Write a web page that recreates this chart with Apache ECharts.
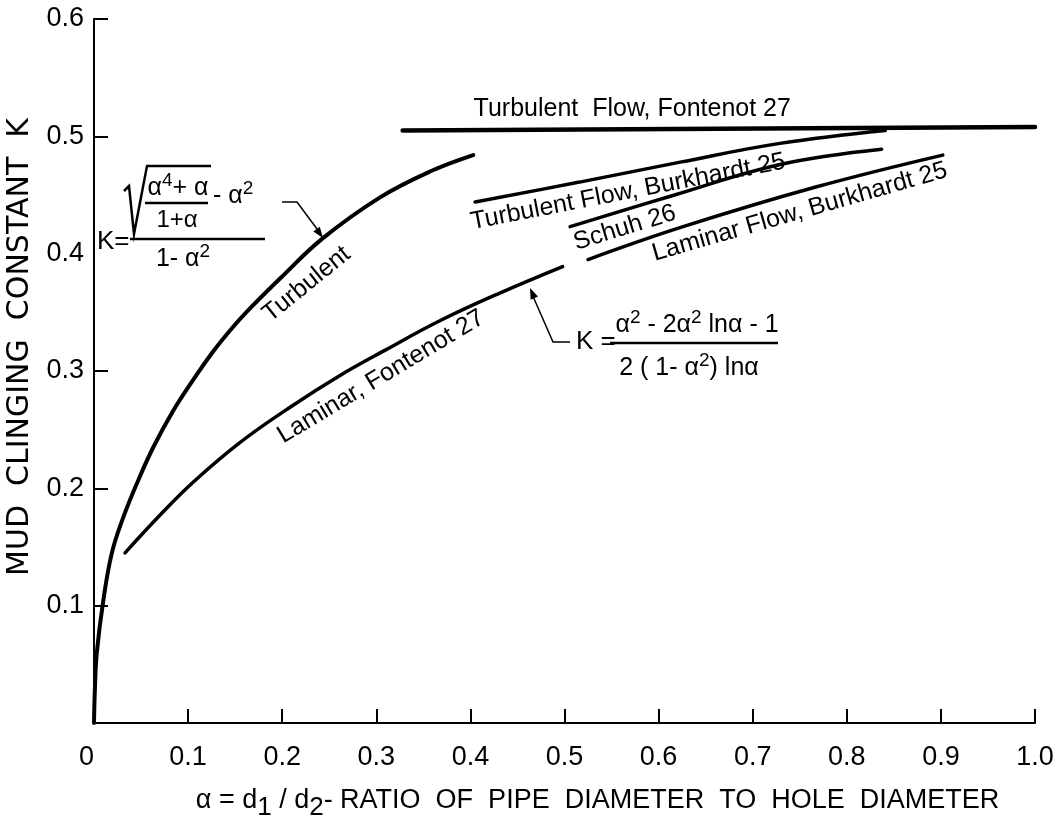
<!DOCTYPE html>
<html><head><meta charset="utf-8">
<script src="https://cdn.jsdelivr.net/npm/echarts@6/dist/echarts.min.js"></script>
<style>html,body{margin:0;padding:0;background:#fff}#c{width:1059px;height:831px}</style>
</head><body><div id="c"></div>
<script>
// ---- data ----
const yLabelValues = [0.1, 0.2, 0.3, 0.4, 0.5, 0.6];
const yTickValues = [0.1, 0.2, 0.3, 0.5, 0.6];
const turbulentFormula = [[0,0],[0.001,0.03],[0.003,0.06],[0.01,0.105],[0.019,0.145],[0.031,0.175],[0.046,0.205],[0.063,0.235],[0.084,0.266],[0.105,0.292],[0.126,0.316],[0.145,0.335],[0.163,0.351],[0.198,0.379],[0.243,0.413],[0.304,0.448],[0.357,0.470],[0.403,0.484]];
const laminarFontenot = [[0.033,0.145],[0.07,0.177],[0.105,0.205],[0.155,0.239],[0.21,0.270],[0.261,0.296],[0.31,0.318],[0.368,0.343],[0.43,0.366],[0.498,0.389]];
const turbulentFontenot = [[0.328,0.505],[1.0,0.508]];
const turbulentBurkhardt = [[0.405,0.444],[0.516,0.461],[0.623,0.478],[0.729,0.494],[0.841,0.505]];
const schuh = [[0.506,0.423],[0.617,0.450],[0.729,0.476],[0.837,0.489]];
const laminarBurkhardt = [[0.525,0.395],[0.626,0.423],[0.768,0.457],[0.902,0.484]];
const curveLabels = [
  {text:'Turbulent  Flow, Fontenot 27', x:0.572, y:0.523, rot:0},
  {text:'Turbulent', x:0.226, y:0.374, rot:39},
  {text:'Laminar, Fontenot 27', x:0.305, y:0.295, rot:31},
  {text:'Turbulent Flow, Burkhardt 25', x:0.5675, y:0.4526, rot:11},
  {text:'Schuh 26', x:0.564, y:0.422, rot:17},
  {text:'Laminar Flow, Burkhardt 25', x:0.750, y:0.4355, rot:16}
];

const FF = "'Liberation Sans', 'DejaVu Sans', sans-serif";
const chart = echarts.init(document.getElementById('c'), null, {renderer:'canvas'});

function lineSeries(name, data, w) {
  return {name, type:'line', data, showSymbol:false, silent:true, smooth:0.4,
    lineStyle:{color:'#000', width:w, cap:'round'}, itemStyle:{color:'#000'}};
}

chart.setOption({
  animation:false,
  backgroundColor:'#fff',
  grid:{left:94, right:24, top:19, bottom:108, containLabel:false, outerBoundsMode:'none'},
  xAxis:{
    type:'value', min:0, max:1, interval:0.1,
    axisLine:{show:true, lineStyle:{color:'#000', width:2}},
    axisTick:{show:true, inside:true, length:14, lineStyle:{color:'#000', width:2}},
    splitLine:{show:false},
    axisLabel:{color:'#000', fontFamily:FF, fontSize:27, margin:21, alignMinLabel:'right',
      formatter:v => v === 0 ? '0' : v.toFixed(1)},
    name:'α = d{s|1} / d{s|2}- RATIO  OF  PIPE  DIAMETER  TO  HOLE  DIAMETER',
    nameLocation:'middle', nameGap:58,
    nameTextStyle:{color:'#000', fontFamily:FF, fontSize:27, lineHeight:40, padding:[0,0,0,66],
      rich:{s:{fontFamily:FF, fontSize:26, lineHeight:18, verticalAlign:'bottom', color:'#000'}}}
  },
  yAxis:{
    type:'value', min:0, max:0.6, interval:0.1,
    axisLine:{show:true, lineStyle:{color:'#000', width:2}},
    axisTick:{show:true, inside:true, length:14, customValues:yTickValues, lineStyle:{color:'#000', width:2}},
    splitLine:{show:false},
    axisLabel:{color:'#000', fontFamily:FF, fontSize:27, margin:10, customValues:yLabelValues,
      formatter:v => v.toFixed(1)},
    name:'MUD  CLINGING  CONSTANT  K',
    nameLocation:'middle', nameGap:54, nameRotate:90,
    nameTextStyle:{color:'#000', fontFamily:"'DejaVu Sans', sans-serif", fontSize:30, padding:[0,0,0,48]}
  },
  series:[
    lineSeries('Turbulent (formula)', turbulentFormula, 4),
    lineSeries('Laminar, Fontenot 27', laminarFontenot, 3.5),
    lineSeries('Turbulent Flow, Fontenot 27', turbulentFontenot, 4.5),
    lineSeries('Turbulent Flow, Burkhardt 25', turbulentBurkhardt, 3.5),
    lineSeries('Schuh 26', schuh, 3.5),
    lineSeries('Laminar Flow, Burkhardt 25', laminarBurkhardt, 3.5)
  ]
});

const supRich = {
  n:{fontFamily:FF, fontSize:25, lineHeight:34, verticalAlign:'middle', fill:'#000', color:'#000'},
  u:{fontFamily:FF, fontSize:19, lineHeight:20, verticalAlign:'top', fill:'#000', color:'#000'}
};
function txt(text, x, y, size, align, rot, rich) {
  const st = {text, x:0, y:0, fill:'#000', font:size+'px '+FF,
      align:align||'center', verticalAlign:'middle', textAlign:align||'center', textVerticalAlign:'middle'};
  if (rich) st.rich = rich;
  return {type:'text', x, y, rotation:(rot||0)*Math.PI/180, silent:true, z:100, style:st};
}
function seg(pts, w) {
  return {type:'polyline', shape:{points:pts}, silent:true, z:100, style:{stroke:'#000', lineWidth:w, fill:null}};
}
function head(tip, from, len, hw) {
  const dx = tip[0]-from[0], dy = tip[1]-from[1], L = Math.hypot(dx,dy);
  const ux = dx/L, uy = dy/L, bx = tip[0]-ux*len, by = tip[1]-uy*len;
  return {type:'polygon', shape:{points:[tip,[bx-uy*hw, by+ux*hw],[bx+uy*hw, by-ux*hw]]}, silent:true, z:100, style:{fill:'#000'}};
}

const els = [];
curveLabels.forEach(l => {
  const p = chart.convertToPixel({gridIndex:0}, [l.x, l.y]);
  els.push(txt(l.text, p[0], p[1], 25, 'center', l.rot));
});
// left formula: K = (sqrt((a^4+a)/(1+a)) - a^2) / (1 - a^2)
els.push(txt('K=', 97, 242, 26, 'left'));
els.push(seg([[130,239],[265,239]], 2.5));
els.push(seg([[124,191],[129,186],[134,234],[147,166],[211,166]], 2.5));
els.push(txt('{n|α}{u|4}{n|+ α}', 178, 188, 25, 'center', 0, supRich));
els.push(seg([[145,203],[208,203]], 2.5));
els.push(txt('1+α', 177, 220, 24, 'center'));
els.push(txt('{n|- α}{u|2}', 213, 196, 25, 'left', 0, supRich));
els.push(txt('{n|1- α}{u|2}', 183, 259, 25, 'center', 0, supRich));
els.push(seg([[282,202],[297,202],[320,233]], 1.5));
els.push(head([323,238],[297,202],11,4));
// right formula
els.push(seg([[570,342],[553,342],[532,294]], 1.5));
els.push(head([530,288],[553,342],11,4));
els.push(txt('K =', 576, 342, 26, 'left'));
els.push(seg([[610,343],[778,343]], 2.5));
els.push(txt('{n|α}{u|2}{n| - 2α}{u|2}{n| lnα - 1}', 697, 325, 25, 'center', 0, supRich));
els.push(txt('{n|2 ( 1- α}{u|2}{n|) lnα}', 689, 368, 25, 'center', 0, supRich));

chart.setOption({graphic:{elements:els}});
</script></body></html>
